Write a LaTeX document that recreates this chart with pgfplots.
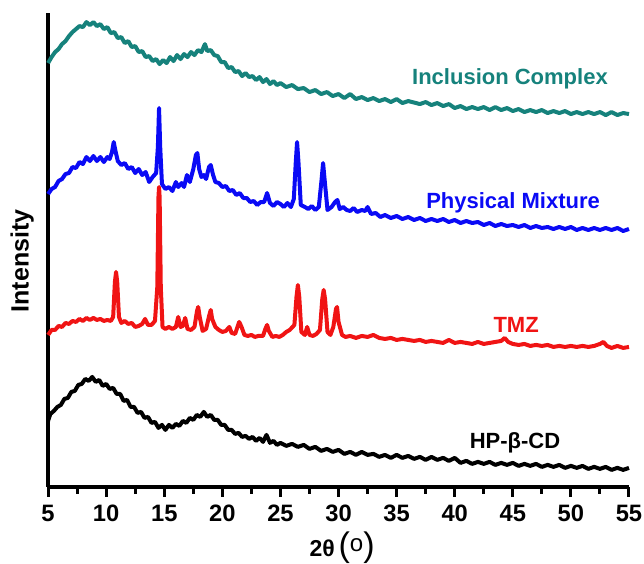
\documentclass[border=0pt]{standalone}
\usepackage{pgfplots}
\pgfplotsset{compat=1.18}
\usepackage{fontspec}
\setmainfont{Liberation Sans}
\definecolor{icteal}{RGB}{22,130,124}
\definecolor{pmblue}{RGB}{10,10,245}
\definecolor{tmzred}{RGB}{240,20,20}

\begin{document}
\begin{tikzpicture}
\begin{axis}[
name=ax,
scale only axis,
width=244bp,
height=199bp,
xmin=5, xmax=55,
ymin=0, ymax=474,
xtick={5,10,...,55},
axis lines=left,
axis line style={line width=1.47bp, black, -},
ytick=\empty,
tick align=outside,
tick style={black, line width=1.26bp},
tickwidth=4.2bp,
subtickwidth=2.9bp,
minor x tick num=1,
tick label style={font=\bfseries},
/pgf/number format/assume math mode=true,
clip=false,
]
% HP-beta-CD
\addplot[black, line width=1.68bp, line join=round] coordinates {
(5.0,66) (5.2,73) (5.5,76) (5.8,80) (6.1,82) (6.4,88) (6.7,89) (7.0,95) (7.3,96) (7.6,102)
(7.9,103) (8.2,108) (8.5,106) (8.8,110) (9.1,105) (9.4,107) (9.7,101) (10.0,103) (10.3,98) (10.6,99)
(10.9,93) (11.2,93) (11.5,86) (11.8,87) (12.1,80) (12.4,80) (12.7,74) (13.0,75) (13.3,69) (13.6,70)
(13.9,64) (14.2,65) (14.5,59) (14.8,62) (15.1,57) (15.4,62) (15.7,59) (16.0,63) (16.3,61) (16.6,66)
(16.9,64) (17.2,69) (17.5,67) (17.8,72) (18.1,70) (18.4,75) (18.7,70) (19.0,72) (19.3,67) (19.6,67)
(19.9,62) (20.2,62) (20.5,57) (20.8,57) (21.1,53) (21.4,54) (21.7,50) (22.0,51) (22.3,48) (22.6,50)
(22.9,46) (23.2,49) (23.5,45) (23.8,52) (24.1,44) (24.4,46) (24.7,42) (25.0,44) (25.5,41) (26.0,43)
(26.5,40) (27.0,42) (27.5,38) (28.0,40) (28.5,36) (29.0,38) (29.5,35) (30.0,37) (30.5,33) (31.0,35)
(31.5,32) (32.0,35) (32.5,32) (33.0,33) (33.5,30) (34.0,32) (34.5,29) (35.0,32) (35.5,29) (36.0,31)
(36.5,28) (37.0,30) (37.5,27) (38.0,30) (38.5,27) (39.0,29) (39.5,26) (40.0,29) (40.5,24) (41.0,26)
(41.5,23) (42.0,25) (42.5,23) (43.0,25) (43.5,22) (44.0,24) (44.5,22) (45.0,24) (45.5,21) (46.0,23)
(46.5,21) (47.0,23) (47.5,20) (48.0,22) (48.5,20) (49.0,22) (49.5,19) (50.0,21) (50.5,19) (51.0,21)
(51.5,18) (52.0,20) (52.5,18) (53.0,20) (53.5,17) (54.0,19) (54.5,17) (55.0,19)
};
% TMZ
\addplot[tmzred, line width=1.68bp, line join=round] coordinates {
(5.0,152) (5.3,157) (5.6,157) (5.9,161) (6.2,160) (6.5,164) (6.8,163) (7.1,166) (7.4,165) (7.7,168)
(8.0,166) (8.3,169) (8.6,167) (8.9,169) (9.2,167) (9.5,168) (9.8,166) (10.1,167) (10.4,166) (10.6,170)
(10.75,205) (10.85,215) (10.95,205) (11.1,170) (11.3,164) (11.6,166) (11.9,163) (12.2,164) (12.5,160) (12.8,161)
(13.1,163) (13.35,168) (13.6,162) (13.9,162) (14.2,166) (14.4,200) (14.5,290) (14.55,300) (14.6,290) (14.7,200)
(14.85,160) (15.1,158) (15.4,160) (15.7,158) (16.0,160) (16.2,170) (16.4,160) (16.6,161) (16.8,169) (17.0,158)
(17.3,157) (17.6,160) (17.82,176) (17.92,180) (18.05,170) (18.3,156) (18.6,158) (18.88,172) (19.0,177) (19.12,168)
(19.4,160) (19.7,157) (20.0,155) (20.3,156) (20.6,160) (20.8,154) (21.1,153) (21.3,160) (21.45,165) (21.65,160)
(21.9,152) (22.2,151) (22.5,152) (22.8,150) (23.1,151) (23.5,151) (23.7,158) (23.85,162) (24.0,156) (24.3,150)
(24.6,151) (24.9,150) (25.2,152) (25.5,155) (25.8,157) (26.2,162) (26.38,190) (26.5,202) (26.62,190) (26.8,155)
(27.1,152) (27.3,160) (27.5,152) (27.8,151) (28.1,153) (28.4,157) (28.6,188) (28.72,197) (28.84,188) (29.05,155)
(29.3,152) (29.55,160) (29.78,178) (29.87,180) (30.0,165) (30.3,152) (30.6,150) (31.0,151) (31.5,149) (32.0,151)
(32.5,150) (33.0,152) (33.5,149) (34.0,148) (34.5,149) (35.0,147) (35.5,148) (36.0,147) (36.5,146) (37.0,147)
(37.5,145) (38.0,146) (38.5,145) (39.0,144) (39.5,147) (40.0,144) (40.5,145) (41.0,144) (41.5,143) (42.0,145)
(42.5,143) (43.0,144) (43.5,145) (44.0,146) (44.3,149) (44.6,145) (45.0,143) (45.5,142) (46.0,143) (46.5,141)
(47.0,142) (47.5,141) (48.0,142) (48.5,140) (49.0,141) (49.5,140) (50.0,141) (50.5,140) (51.0,141) (51.5,140)
(52.0,141) (52.5,143) (52.8,145) (53.1,141) (53.5,139) (54.0,141) (54.5,139) (55.0,140)
};
% Physical Mixture
\addplot[pmblue, line width=1.68bp, line join=round] coordinates {
(5.0,293) (5.3,298) (5.6,300) (5.9,306) (6.2,308) (6.5,313) (6.8,314) (7.1,320) (7.4,319) (7.7,325)
(8.0,323) (8.3,330) (8.6,326) (8.9,331) (9.2,326) (9.5,330) (9.8,325) (10.1,330) (10.3,328) (10.5,335)
(10.65,345) (10.8,336) (11.0,326) (11.3,322) (11.6,324) (11.9,318) (12.2,320) (12.5,314) (12.8,318) (13.1,312)
(13.4,315) (13.7,305) (14.0,310) (14.3,314) (14.45,340) (14.55,379) (14.65,340) (14.8,303) (15.1,298) (15.4,300)
(15.7,296) (16.0,305) (16.2,300) (16.5,304) (16.7,300) (16.95,312) (17.2,305) (17.5,318) (17.72,332) (17.85,334)
(18.0,318) (18.2,310) (18.4,312) (18.6,308) (18.85,320) (19.0,322) (19.2,312) (19.4,305) (19.7,304) (20.0,300)
(20.3,301) (20.6,296) (20.9,297) (21.2,292) (21.5,294) (21.8,289) (22.1,289) (22.4,285) (22.7,286) (23.0,282)
(23.3,285) (23.6,285) (23.85,294) (24.1,284) (24.4,281) (24.7,285) (25.0,283) (25.3,280) (25.6,284) (25.9,280)
(26.15,288) (26.32,325) (26.43,345) (26.55,325) (26.75,282) (27.1,280) (27.4,278) (27.7,281) (28.0,277) (28.3,280)
(28.52,305) (28.67,324) (28.82,305) (29.05,277) (29.4,280) (29.7,285) (29.9,287) (30.1,278) (30.4,280) (30.7,277)
(31.0,276) (31.3,279) (31.6,275) (32.0,277) (32.3,276) (32.5,280) (32.8,273) (33.2,274) (33.6,270) (34.0,272)
(34.5,269) (35.0,271) (35.5,268) (36.0,270) (36.5,267) (37.0,269) (37.5,266) (38.0,268) (38.5,266) (39.0,268)
(39.5,265) (40.0,267) (40.5,264) (41.0,266) (41.5,264) (42.0,265) (42.5,262) (43.0,264) (43.5,261) (44.0,263)
(44.5,261) (45.0,262) (45.5,260) (46.0,262) (46.5,259) (47.0,261) (47.5,259) (48.0,260) (48.5,258) (49.0,260)
(49.5,258) (50.0,260) (50.5,257) (51.0,259) (51.5,257) (52.0,259) (52.5,257) (53.0,259) (53.5,257) (54.0,259)
(54.5,256) (55.0,258)
};
% Inclusion Complex
\addplot[icteal, line width=1.68bp, line join=round] coordinates {
(5.0,424) (5.3,430) (5.6,435) (5.9,438) (6.2,443) (6.5,446) (6.8,451) (7.1,455) (7.4,458) (7.7,461)
(8.0,460) (8.3,465) (8.6,462) (8.9,465) (9.2,461) (9.5,463) (9.8,458) (10.1,460) (10.4,454) (10.7,455)
(11.0,449) (11.3,450) (11.6,444) (11.9,446) (12.2,440) (12.5,441) (12.8,435) (13.1,436) (13.4,430) (13.7,431)
(14.0,426) (14.3,428) (14.6,423) (14.9,427) (15.2,424) (15.5,430) (15.8,426) (16.1,432) (16.4,428) (16.7,433)
(17.0,430) (17.3,435) (17.6,432) (17.9,437) (18.2,435) (18.5,443) (18.7,436) (19.0,437) (19.3,432) (19.6,431)
(19.9,425) (20.2,425) (20.5,419) (20.8,420) (21.1,415) (21.4,416) (21.7,411) (22.0,414) (22.3,410) (22.6,411)
(22.9,407) (23.2,410) (23.5,405) (23.8,408) (24.1,403) (24.4,406) (24.7,402) (25.0,404) (25.5,400) (26.0,402)
(26.5,398) (27.0,399) (27.5,395) (28.0,397) (28.5,393) (29.0,395) (29.5,391) (30.0,393) (30.5,389) (31.0,393)
(31.5,388) (32.0,390) (32.5,387) (33.0,389) (33.5,386) (34.0,388) (34.5,385) (35.0,388) (35.5,384) (36.0,386)
(37.0,383) (37.5,385) (38.0,382) (38.5,384) (39.0,381) (39.5,383) (40.0,379) (40.5,381) (41.0,378) (41.5,380)
(42.0,378) (42.5,380) (43.0,377) (43.5,380) (44.0,377) (44.5,379) (45.0,376) (45.5,378) (46.0,375) (46.5,377)
(47.0,375) (47.5,377) (48.0,374) (48.5,376) (49.0,374) (49.5,376) (50.0,373) (50.5,375) (51.0,373) (51.5,375)
(52.0,373) (52.5,375) (53.0,372) (53.5,375) (54.0,372) (54.5,374) (55.0,373)
};
\end{axis}
% series names and axis titles, placed from the axis corner
\begin{scope}[every node/.style={font=\fontsize{9.24bp}{11bp}\selectfont\bfseries}]
\node[icteal] at ([shift={(194.0bp,171.4bp)}]ax.south west) {Inclusion Complex};
\node[pmblue] at ([shift={(195.3bp,119.3bp)}]ax.south west) {Physical Mixture};
\node[tmzred] at ([shift={(196.6bp,68.0bp)}]ax.south west) {TMZ};
\node[black] at ([shift={(196.1bp,18.5bp)}]ax.south west) {HP-β-CD};
\end{scope}
\node[rotate=90, font=\fontsize{10.5bp}{12bp}\selectfont\bfseries] at ([shift={(-10.9bp,94.9bp)}]ax.south west) {Intensity};
\node[font=\fontsize{9.66bp}{11bp}\selectfont\bfseries] at ([shift={(123.5bp,-25.6bp)}]ax.south west) {2θ\,{\fontsize{14.3bp}{14.3bp}\selectfont\mdseries(}\raisebox{0.4ex}{\fontsize{10.1bp}{10.1bp}\selectfont\mdseries o}{\fontsize{14.3bp}{14.3bp}\selectfont\mdseries)}};
\pgfresetboundingbox
\path ([shift={(-20.2bp,-32.3bp)}]ax.south west) rectangle ([shift={(6.3bp,5.5bp)}]ax.north east);
\end{tikzpicture}
\end{document}
